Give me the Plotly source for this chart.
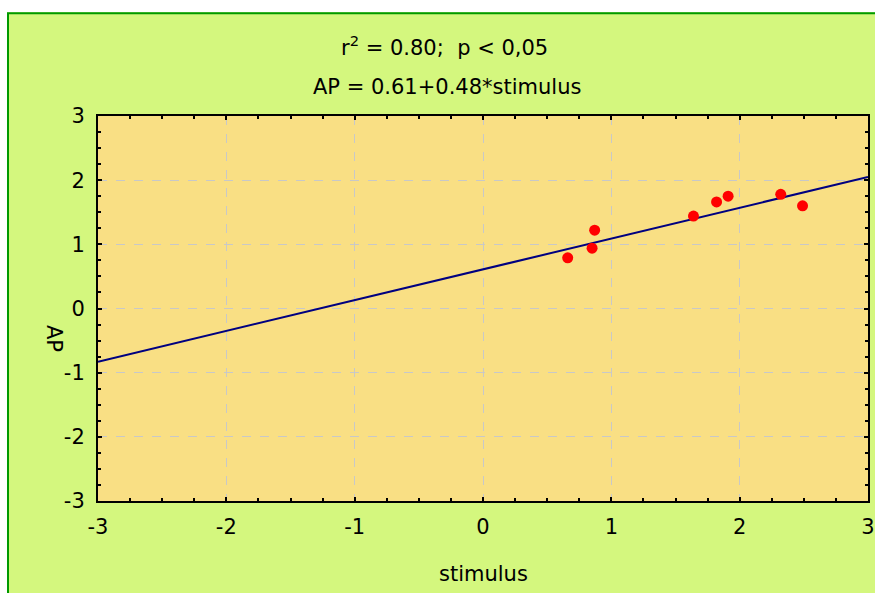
import plotly.graph_objects as go

# data
stimulus = [0.66, 0.85, 0.87, 1.64, 1.82, 1.91, 2.32, 2.49]
ap = [0.79, 0.94, 1.22, 1.44, 1.66, 1.75, 1.78, 1.60]
intercept = 0.61
slope = 0.48
line_x = [-3, 3]
line_y = [intercept + slope * v for v in line_x]
tick_vals = [-3, -2, -1, 0, 1, 2, 3]
tick_text = ["-3", "-2", "-1", "0", "1", "2", "3"]

W, H = 875, 593
L, R, T, B = 98, 868, 116, 501
pw, ph = R - L, B - T


def px(x):
    return (x - L) / pw


def py(y):
    return (B - y) / ph


FONT = "DejaVu Sans, Liberation Sans, Arial, sans-serif"
FS = 21
PAPER = "#D4F77E"
PLOT = "#F9DF84"
BORDER = "#009900"

fig = go.Figure()
fig.add_trace(go.Scatter(x=line_x, y=line_y, mode="lines",
                         line=dict(color="#000080", width=2), hoverinfo="skip"))
fig.add_trace(go.Scatter(x=stimulus, y=ap, mode="markers",
                         marker=dict(color="#FF0000", size=11, line=dict(width=0))))

axis_common = dict(
    range=[-3, 3], tickvals=tick_vals, ticktext=tick_text, automargin=False,
    showline=True, linecolor="black", linewidth=2, mirror="allticks",
    ticks="inside", ticklen=4, tickwidth=2, tickcolor="black",
    showgrid=True, gridcolor="#C8C8C8", griddash="dash", gridwidth=1,
    zeroline=False, tickfont=dict(family=FONT, size=FS, color="black"),
    minor=dict(dtick=0.25, ticks="inside", ticklen=3, tickwidth=2,
               tickcolor="black", showgrid=False),
    fixedrange=True,
)

fig.update_layout(
    width=W, height=H,
    margin=dict(l=L, r=W - R, t=T, b=H - B, pad=0, autoexpand=False),
    paper_bgcolor=PAPER, plot_bgcolor=PLOT,
    showlegend=False,
    xaxis=dict(axis_common, ticklabelstandoff=6),
    yaxis=dict(axis_common, ticklabelstandoff=7),
    font=dict(family=FONT, color="black"),
)

shapes = [
    # white page strips on top and left
    dict(type="rect", xref="paper", yref="paper", x0=px(-5), x1=px(W + 5),
         y0=py(12.3), y1=py(-5), fillcolor="white", line=dict(width=0), layer="above"),
    dict(type="rect", xref="paper", yref="paper", x0=px(-5), x1=px(7),
         y0=py(H + 5), y1=py(-5), fillcolor="white", line=dict(width=0), layer="above"),
    # green frame (right and bottom edges fall outside the picture)
    dict(type="rect", xref="paper", yref="paper", x0=px(8), x1=px(W + 20),
         y0=py(H + 20), y1=py(13.2), fillcolor="rgba(0,0,0,0)",
         line=dict(color=BORDER, width=2), layer="above"),
]
fig.update_layout(shapes=shapes)

annotations = [
    dict(text="r<sup>2</sup> = 0.80;  p &lt; 0,05", x=px(444), y=py(46),
         xref="paper", yref="paper", showarrow=False, xanchor="center", yanchor="middle",
         font=dict(family=FONT, size=FS, color="black")),
    dict(text="AP = 0.61+0.48*stimulus", x=px(447), y=py(87),
         xref="paper", yref="paper", showarrow=False, xanchor="center", yanchor="middle",
         font=dict(family=FONT, size=FS, color="black")),
    dict(text="stimulus", x=px(483), y=py(574),
         xref="paper", yref="paper", showarrow=False, xanchor="center", yanchor="middle",
         font=dict(family=FONT, size=FS, color="black")),
    dict(text="AP", x=px(54), y=py(338), textangle=90,
         xref="paper", yref="paper", showarrow=False, xanchor="center", yanchor="middle",
         font=dict(family=FONT, size=FS, color="black")),
]
fig.update_layout(annotations=annotations)

fig.write_html("out.html", config={"displayModeBar": False},
               post_script="document.body.style.margin='0';")
